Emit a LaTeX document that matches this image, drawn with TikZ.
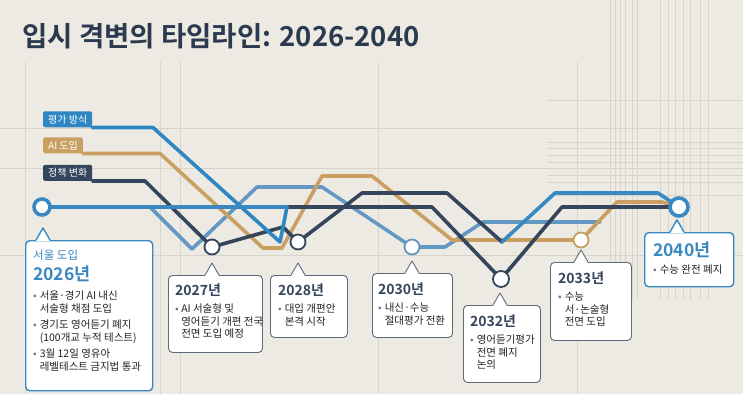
\documentclass[tikz,border=0pt]{standalone}
\usepackage{fontspec}
\setmainfont{Noto Sans CJK KR}[BoldFont={Noto Sans CJK KR Bold}]
\usepackage{tikz}
\usetikzlibrary{calc}

\definecolor{paper}{HTML}{EDEAE3}
\definecolor{gridgray}{HTML}{D9D4CA}
\definecolor{evalblue}{HTML}{2E87C2}
\definecolor{aigold}{HTML}{C9A061}
\definecolor{policynavy}{HTML}{34455C}
\definecolor{paleblue}{HTML}{6398C2}
\definecolor{hubblue}{HTML}{3A88C2}
\definecolor{titleink}{HTML}{2B3A4F}
\definecolor{boxgray}{HTML}{5D6B78}
\definecolor{inktxt}{HTML}{1F2226}
\definecolor{bulgray}{HTML}{5F7487}

\begin{document}
\begin{tikzpicture}[x=1pt,y=-1pt]
    \newcommand{\bul}{\textcolor{bulgray}{\textbullet}}
    \newcommand{\beak}[3]{
      \fill[white] (#1-7,#2+1) -- (#1,#2-12) -- (#1+7,#2+1) -- cycle;
      \draw[#3,line join=round] (#1-7,#2) -- (#1,#2-12) -- (#1+7,#2);
    }
    \tikzstyle{grid}=[draw=gridgray, line width=0.6pt]
    \tikzstyle{route}=[line width=3.6pt, line join=round, line cap=round]
    \tikzstyle{tab}=[
      rectangle,
      rounded corners=1.5pt,
      inner xsep=5pt,
      inner ysep=3.5pt,
      text=white,
      anchor=south west,
      font=\fontsize{10}{11}\selectfont,
    ]
    \tikzstyle{stop}=[
      circle,
      fill=white,
      draw=policynavy,
      line width=1.8pt,
      minimum size=15pt,
      inner sep=0pt,
    ]
    \tikzstyle{bigstop}=[
      stop,
      draw=hubblue,
      line width=3.6pt,
      minimum size=16pt,
    ]
    \tikzstyle{callbox}=[
      rectangle,
      rounded corners=4pt,
      fill=white,
      draw=boxgray,
      line width=0.9pt,
      anchor=north west,
      inner sep=0pt,
    ]
    \tikzstyle{hubbox}=[callbox, draw=hubblue, line width=1.4pt]
    \tikzstyle{yeartxt}=[anchor=north west, inner sep=0pt, text=policynavy, font=\bfseries\fontsize{14}{16}\selectfont]
    \tikzstyle{hubyear}=[yeartxt, text=hubblue, font=\bfseries\fontsize{17.5}{19}\selectfont]
    \tikzstyle{listtxt}=[anchor=north west, inner sep=0pt, text=inktxt, font=\fontsize{10.5}{12.5}\selectfont, align=left]

    % background and grid
    \fill[paper] (0,0) rectangle (743,394);
    \useasboundingbox (0,0) rectangle (743,394);
    \foreach \gx in {25,160,180,378,577}
      \draw[grid] (\gx,62) -- (\gx,394);
    \foreach \gy in {128,168,255}
      \draw[grid] (0,\gy) -- (743,\gy);
    \foreach \gx in {610,615,620,625,632,637,660,668,675,683,690,700,708}
      \draw[grid, line width=0.5pt] (\gx,0) -- (\gx,300);
    \foreach \gy in {100,142,148,155,162,175,182,195}
      \draw[grid, line width=0.5pt] (548,\gy) -- (743,\gy);

    % title
    \node[anchor=west, inner sep=0pt, text=titleink, font=\bfseries\fontsize{27.5}{31}\selectfont] (title) at (22,36) {입시 격변의 타임라인: 2026-2040};

    % legend tabs
    \node[tab, fill=evalblue] (tabEval) at (43,127.5) {평가 방식};
    \node[tab, fill=aigold] (tabAI) at (43,153.5) {AI 도입};
    \node[tab, fill=policynavy] (tabPolicy) at (43,181) {정책 변화};

    % stop positions
    \coordinate (c2026) at (42,207);
    \coordinate (c2027) at (212,247);
    \coordinate (c2028) at (298,242);
    \coordinate (c2030) at (412,247);
    \coordinate (c2032) at (501,279);
    \coordinate (c2033) at (581,240);
    \coordinate (c2040) at (679,207);
    \coordinate (merge) at (287,207);

    % routes
    {
      \draw[route, paleblue] (150,207) -- (192,249) -- (257,187) -- (322,187) -- (c2030) -- (445,247) -- (483,222) -- (600,222);
      \draw[route, aigold] (tabAI.south east) -- (160,153.5) -- (263,248) -- (282,248) -- (322,176) -- (372,176) -- (452,240) -- (c2033) -- (617,202) -- (662,202) -- (c2040);
      \draw[route, policynavy] (tabPolicy.south east) -- (145,181) -- (c2027) -- (283,227) -- (c2028) -- (362,193) -- (447,193) -- (502,242);
      \draw[route, evalblue!85!paleblue] (502,242) -- (555,193) -- (658,193) -- (c2040);
      \draw[route, policynavy] (merge) -- (432,207) -- (c2032) -- (562,207) -- (c2040);
      \draw[route, evalblue] (tabEval.south east) -- (153,127.5) -- (280,242) -- (merge);
      \draw[route, hubblue, line width=3.4pt] (c2026) -- (merge);
    }

    % stops
    \node[bigstop] (s2026) at (c2026) {};
    \node[stop] (s2027) at (c2027) {};
    \node[stop] (s2028) at (c2028) {};
    \node[stop, draw=paleblue] (s2030) at (c2030) {};
    \node[stop, minimum size=16pt] (s2032) at (c2032) {};
    \node[stop, draw=aigold] (s2033) at (c2033) {};
    \node[bigstop, minimum size=18pt] (s2040) at (c2040) {};

    % 2026
    \node[hubbox, minimum width=127pt, minimum height=150pt] (b2026) at (25,240) {};
    \beak{43}{240}{hubblue, line width=1.4pt}
    \node[anchor=north west, inner sep=0pt, text=hubblue, font=\fontsize{11.5}{13}\selectfont] (h2026) at (33,250) {서울 도입};
    \node[hubyear] (y2026) at (33,266) {2026년};
    \node[listtxt] (l2026) at (33,291) {\begin{tabular}{@{}l@{\hspace{3pt}}l@{}}
      \bul & 서울·경기 AI 내신\\
           & 서술형 채점 도입\\[4pt]
      \bul & 경기도 영어듣기 폐지\\
           & (100개교 누적 테스트)\\[4pt]
      \bul & 3월 12일 영유아\\
           & 레벨테스트 금지법 통과
    \end{tabular}};

    % 2027
    \node[callbox, minimum width=94pt, minimum height=77pt] (b2027) at (168,275) {};
    \beak{212}{275}{boxgray, line width=0.9pt}
    \node[yeartxt] (y2027) at (175,284) {2027년};
    \node[listtxt] (l2027) at (175,304) {\begin{tabular}{@{}l@{\hspace{2.5pt}}l@{}}
      \bul & AI 서술형 및\\
           & 영어듣기 개편 전국\\
           & 전면 도입 예정
    \end{tabular}};

    % 2028
    \node[callbox, minimum width=77pt, minimum height=62pt] (b2028) at (270,275) {};
    \beak{298}{275}{boxgray, line width=0.9pt}
    \node[yeartxt] (y2028) at (278,284) {2028년};
    \node[listtxt] (l2028) at (278,304) {\begin{tabular}{@{}l@{\hspace{3pt}}l@{}}
      \bul & 대입 개편안\\
           & 본격 시작
    \end{tabular}};

    % 2030
    \node[callbox, minimum width=80pt, minimum height=64pt] (b2030) at (372,273) {};
    \beak{412}{273}{boxgray, line width=0.9pt}
    \node[yeartxt] (y2030) at (378,283) {2030년};
    \node[listtxt] (l2030) at (378,303) {\begin{tabular}{@{}l@{\hspace{3pt}}l@{}}
      \bul & 내신·수능\\
           & 절대평가 전환
    \end{tabular}};

    % 2032
    \node[callbox, minimum width=77pt, minimum height=77pt] (b2032) at (463,305) {};
    \beak{500}{305}{boxgray, line width=0.9pt}
    \node[yeartxt] (y2032) at (470,315) {2032년};
    \node[listtxt] (l2032) at (470,335) {\begin{tabular}{@{}l@{\hspace{3pt}}l@{}}
      \bul & 영어듣기평가\\
           & 전면 폐지\\
           & 논의
    \end{tabular}};

    % 2033
    \node[callbox, minimum width=81pt, minimum height=78pt] (b2033) at (550,262) {};
    \beak{581}{262}{boxgray, line width=0.9pt}
    \node[yeartxt] (y2033) at (558,272) {2033년};
    \node[listtxt] (l2033) at (558,292) {\begin{tabular}{@{}l@{\hspace{3pt}}l@{}}
      \bul & 수능\\
           & 서·논술형\\
           & 전면 도입
    \end{tabular}};

    % 2040
    \node[hubbox, minimum width=89pt, minimum height=54pt] (b2040) at (644,232) {};
    \beak{677}{232}{hubblue, line width=1.4pt}
    \node[hubyear] (y2040) at (653,242) {2040년};
    \node[listtxt] (l2040) at (653,265) {\begin{tabular}{@{}l@{\hspace{3pt}}l@{}}
      \bul & 수능 완전 폐지
    \end{tabular}};
\end{tikzpicture}
\end{document}
